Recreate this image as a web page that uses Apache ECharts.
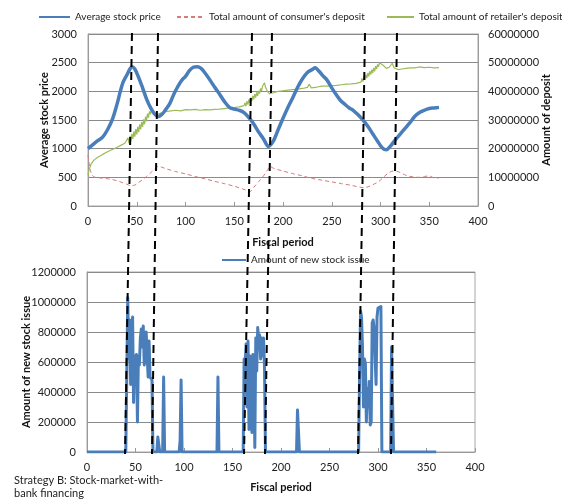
<!DOCTYPE html>
<html><head><meta charset="utf-8">
<script src="https://cdn.jsdelivr.net/npm/echarts@6/dist/echarts.min.js"></script>
<style>html,body{margin:0;padding:0;background:#fff;}#c{width:562px;height:499px;}</style>
</head><body><div id="c"></div>
<script>
// ---- Data ----
const xTicks = [0, 50, 100, 150, 200, 250, 300, 350, 400];

const pricePeriods = [0,5,10,15,20,25,30,33,36,40,43,45,48,52,56,60,64,68,72,76,80,84,88,92,96,100,104,108,112,116,120,125,130,135,140,145,150,155,160,165,170,175,180,185,190,195,200,205,210,215,220,225,230,233,237,241,245,250,255,259,263,268,272,277,282,287,292,297,302,306,310,315,320,325,330,335,340,345,350,355,360];
const priceValues = [1000,1070,1140,1200,1330,1510,1790,1990,2160,2290,2390,2430,2390,2240,2060,1870,1720,1610,1560,1600,1690,1790,1950,2080,2190,2260,2360,2420,2430,2400,2320,2200,2070,1950,1820,1720,1690,1670,1630,1540,1430,1290,1170,1040,1130,1330,1530,1720,1890,2070,2220,2330,2380,2410,2350,2270,2200,2060,1930,1840,1780,1710,1670,1590,1500,1390,1260,1130,1010,980,1040,1150,1250,1350,1450,1560,1630,1670,1700,1710,1720];

const consumerPeriods = [0,2,4,6,10,15,20,25,30,35,40,44,48,52,56,60,64,68,72,76,80,90,100,110,120,130,140,150,160,166,170,175,180,184,187,190,200,210,220,230,240,250,260,270,280,284,288,292,298,303,308,313,318,323,328,333,340,345,350,355,360];
const consumerDeposit = [17.8,13,11,10.2,9.9,9.7,9.5,9.2,8.8,8.2,7.6,7.0,7.3,8.2,9.2,10.3,11.5,12.8,13.8,13.5,13,12,11.2,10.3,9.5,8.6,7.8,6.9,5.8,5.0,6.5,8.5,10.5,12.5,13.8,13.2,12.2,11.3,10.5,9.6,9,8.4,7.8,7.2,6.5,6.4,6.8,7.4,8.5,10,11.5,12.2,12,11.2,10.5,10.2,10,10.3,10.5,9.8,9.8]; // millions

const retailerPeriods = [0,1,3,6,10,15,20,25,30,35,38,40,41,42,43,44,45,46,47,48,49,50,51,52,53,54,55,56,57,58,59,60,61,62,63,64,65,67,70,74,78,85,90,95,100,105,110,115,120,125,130,135,140,145,150,155,160,161,162,163,164,165,166,167,168,169,170,171,172,173,174,175,176,177,178,179,180,181,182,184,186,190,195,200,205,210,215,220,225,227,229,235,240,245,250,255,260,265,270,275,280,281,282,283,284,285,286,287,288,289,290,291,292,293,294,295,296,297,298,299,300,301,303,306,309,312,314,318,322,326,330,335,340,345,350,355,360];
const retailerDeposit = [10.8,12.5,14.5,16,17,18,18.9,19.7,20.5,21.4,22,22.6,23.8,21.8,24.5,22.6,25.2,23.4,26,24.2,26.8,25,27.6,25.8,28.5,26.7,29.3,27.6,30.2,28.5,31.2,29.5,32.2,30.8,33,32,33.2,33,32,32.3,32.8,33.2,33.4,33.2,33.6,33.5,33.7,33.4,33.6,33.5,33.7,33.8,34,34.2,34.3,34.6,35,36,34.8,36.6,35.4,37.2,36,37.8,36.6,38.4,37.2,39,37.8,39.6,38.4,40.2,39.2,41,40.2,41.8,42.4,43,41.5,40,39.2,39.5,40,40.2,40.4,40.6,40.8,41,41.4,42.5,41.2,41.5,41.8,41.8,42,42.1,42.3,42.5,42.6,42.8,43.2,44.5,43.4,45.2,44,45.8,44.6,46.4,45.2,47,45.8,47.6,46.4,48.2,47,48.8,47.8,49.4,48.6,50,49.4,50.3,49,48,48.4,49.8,48.2,47.6,47.8,48,48.2,48.2,48.5,48.3,48.4,48.2,48.3]; // millions

const issuePeriods = [0,40,41,42,43,44,45,46,47,48,49,50,51,52,53,54,55,56,57,58,59,60,61,62,63,64,65,66,67,68,72,73,74,75,78,79,80,95,96,97,98,134,135,136,161,162,163,164,165,166,167,168,169,170,171,172,173,174,175,176,177,178,179,180,181,182,183,184,216,217,218,219,280,281,282,283,284,285,286,287,288,289,290,291,292,293,294,295,296,297,298,299,300,301,302,303,304,313,314,315,316,335,336,337,340,341,342,360];
const issueValues = [0,0,500,1030,620,880,450,820,900,330,640,600,650,200,640,580,760,820,700,840,580,620,800,790,500,740,500,500,480,0,0,100,100,0,0,500,0,0,80,480,0,0,500,0,0,620,580,720,300,740,150,640,620,130,650,600,30,760,540,830,750,780,620,760,640,760,560,0,0,280,280,0,0,500,940,900,700,300,620,590,200,420,300,470,180,200,860,880,820,830,450,900,960,950,960,970,0,0,700,700,0,0,10,0,0,12,0,0]; // thousands

// dashed regime boundaries: period at top of upper chart, and at bottom of lower chart
const boundaryTop = [45.1, 71.8, 168.2, 188.7, 284.1, 316.9];
const boundaryBottom = [39.2, 67.0, 161.9, 183.5, 279.4, 313.4];

const zip = (a, b, k) => a.map((v, i) => [v, b[i] * (k || 1)]);

const FONT = 'Lato';
const plain = v => String(v);
const axisLbl = { fontFamily: FONT, fontSize: 11, color: '#222', formatter: plain };
const nameSty = { fontFamily: FONT, fontSize: 11, fontWeight: 'bold', color: '#111' };
const gridLine = { show: true, lineStyle: { color: '#8a8a8a', width: 1 } };
const axLine = { show: true, lineStyle: { color: '#9a9a9a', width: 1 } };
const legTxt = { fontFamily: FONT, fontSize: 10, color: '#222' };
const legBase = { top: 7, itemHeight: 10, itemGap: 0, itemStyle: { opacity: 0 }, textStyle: legTxt };

const chart = echarts.init(document.getElementById('c'), null, { renderer: 'canvas' });
const BLUE = '#4a7ebb', RED = '#d77b7b', GREEN = '#9bbb59';

const option = {
  animation: false,
  backgroundColor: '#fff',
  textStyle: { fontFamily: FONT },
  legend: [
    Object.assign({}, legBase, { left: 33, itemWidth: 31, data: ['Average stock price'] }),
    Object.assign({}, legBase, { left: 171, itemWidth: 27, data: ["Total amount of consumer's deposit"] }),
    Object.assign({}, legBase, { left: 381, itemWidth: 27, data: ["Total amount of retailer's deposit"] }),
    Object.assign({}, legBase, { left: 216, top: 250, itemWidth: 24, data: ['Amount of new stock issue'] })
  ],
  grid: [
    { left: 88, right: 84, top: 34, height: 172, show: true, borderColor: '#a8a8a8', borderWidth: 1 },
    { left: 87, right: 87, top: 272, height: 180, show: true, borderColor: '#a8a8a8', borderWidth: 1 }
  ],
  xAxis: [
    { gridIndex: 0, type: 'value', min: 0, max: 400, interval: 50, name: 'Fiscal period', nameLocation: 'middle', nameGap: 31, nameMoveOverlap: false, nameTextStyle: nameSty,
      axisLine: axLine, axisTick: { show: true, inside: true, length: 4, lineStyle: { color: '#9a9a9a' } }, splitLine: { show: false }, axisLabel: Object.assign({ margin: 10 }, axisLbl) },
    { gridIndex: 1, type: 'value', min: 0, max: 400, interval: 50, name: 'Fiscal period', nameLocation: 'middle', nameGap: 30, nameMoveOverlap: false, nameTextStyle: nameSty,
      axisLine: axLine, axisTick: { show: true, inside: true, length: 4, lineStyle: { color: '#9a9a9a' } }, splitLine: { show: false }, axisLabel: Object.assign({ margin: 10 }, axisLbl) }
  ],
  yAxis: [
    { gridIndex: 0, type: 'value', min: 0, max: 3000, interval: 500, name: 'Average stock price', nameLocation: 'middle', nameGap: 38, nameMoveOverlap: false, nameTextStyle: nameSty,
      axisLine: axLine, axisTick: { show: false }, splitLine: gridLine, axisLabel: Object.assign({ margin: 11 }, axisLbl) },
    { gridIndex: 0, type: 'value', position: 'right', min: 0, max: 60000000, interval: 10000000, name: 'Amount of deposit', nameLocation: 'middle', nameGap: 63, nameRotate: 90, nameMoveOverlap: false, nameTextStyle: nameSty,
      axisLine: axLine, axisTick: { show: false }, splitLine: { show: false }, axisLabel: Object.assign({ margin: 10 }, axisLbl) },
    { gridIndex: 1, type: 'value', min: 0, max: 1200000, interval: 200000, name: 'Amount of new stock issue', nameLocation: 'middle', nameGap: 55, nameMoveOverlap: false, nameTextStyle: nameSty,
      axisLine: axLine, axisTick: { show: false }, splitLine: gridLine, axisLabel: Object.assign({ margin: 11 }, axisLbl) }
  ],
  series: [
    { name: 'Average stock price', type: 'line', xAxisIndex: 0, yAxisIndex: 0, symbol: 'none', smooth: 0.3, z: 4,
      lineStyle: { color: BLUE, width: 3.5 }, itemStyle: { color: BLUE }, data: zip(pricePeriods, priceValues) },
    { name: "Total amount of consumer's deposit", type: 'line', xAxisIndex: 0, yAxisIndex: 1, symbol: 'none', smooth: 0.3, z: 3,
      lineStyle: { color: RED, width: 1, type: [4, 3] }, itemStyle: { color: RED }, data: zip(consumerPeriods, consumerDeposit, 1e6) },
    { name: "Total amount of retailer's deposit", type: 'line', xAxisIndex: 0, yAxisIndex: 1, symbol: 'none', z: 3,
      lineStyle: { color: GREEN, width: 1.2 }, itemStyle: { color: GREEN }, data: zip(retailerPeriods, retailerDeposit, 1e6) },
    { name: 'Amount of new stock issue', type: 'line', xAxisIndex: 1, yAxisIndex: 2, symbol: 'none', z: 3,
      lineStyle: { color: BLUE, width: 3, join: 'round' }, itemStyle: { color: BLUE }, data: zip(issuePeriods, issueValues, 1000) }
  ],
  graphic: [
    { type: 'text', left: 14, top: 474, style: { text: 'Strategy B: Stock-market-with-\nbank financing', fontFamily: FONT, fontSize: 11, lineHeight: 13, fill: '#222' } }
  ]
};
chart.setOption(option);

// dashed boundary lines across both panels
const lines = boundaryTop.map((t, i) => {
  const p1 = chart.convertToPixel({ gridIndex: 0 }, [t, 3000]);
  const p2 = chart.convertToPixel({ gridIndex: 1 }, [boundaryBottom[i], 0]);
  return { type: 'line', z: 100, shape: { x1: p1[0], y1: p1[1] - 1, x2: p2[0], y2: p2[1] + 2 },
    style: { stroke: '#000', lineWidth: 2, lineDash: [8, 5] } };
});
chart.setOption({ graphic: option.graphic.concat(lines) });
</script></body></html>
